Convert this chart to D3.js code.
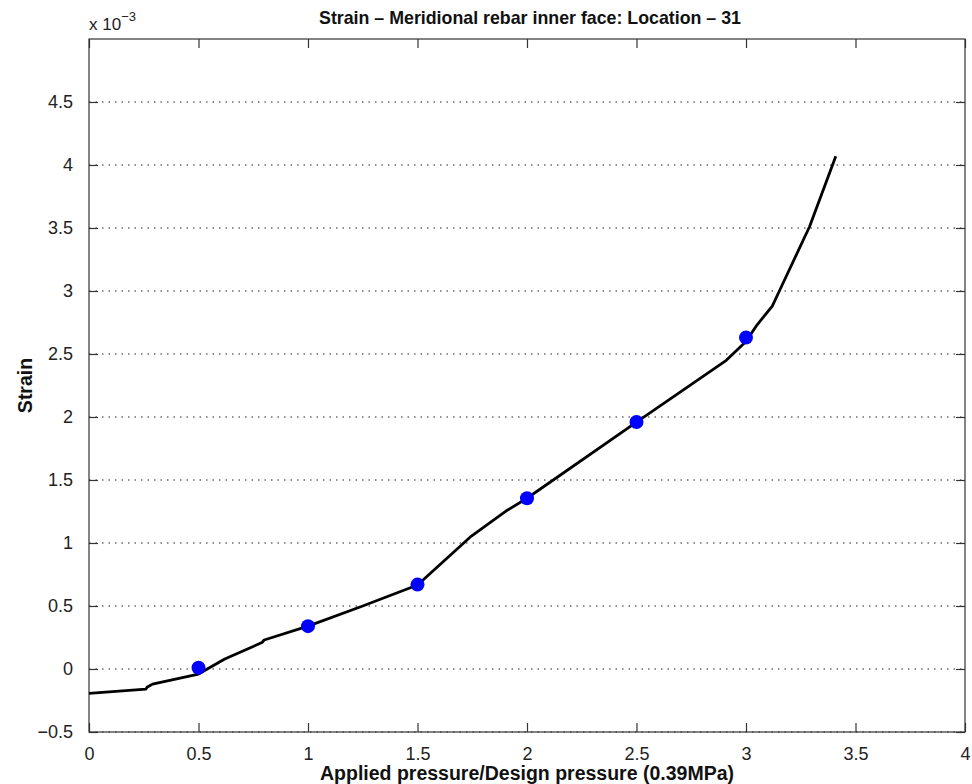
<!DOCTYPE html>
<html>
<head>
<meta charset="utf-8">
<script src="https://cdn.jsdelivr.net/npm/d3@7"></script>
<style>
  body { margin: 0; background: #fff; }
  text { font-family: "Liberation Sans", Arial, sans-serif; }
</style>
</head>
<body>
<script>
// strain curve, x = applied/design pressure, y = strain (x 1e-3)
var curveX = [0, 0.26, 0.265, 0.29, 0.5, 0.62, 0.79, 0.80, 1.0, 1.25, 1.5, 1.74, 1.91, 2.0, 2.5, 2.91, 3.0, 3.05, 3.12, 3.155, 3.29, 3.41];
var curveY = [-0.194, -0.16, -0.145, -0.12, -0.04, 0.08, 0.21, 0.23, 0.34, 0.50, 0.667, 1.046, 1.26, 1.355, 1.96, 2.45, 2.60, 2.73, 2.88, 3.01, 3.51, 4.07];
// measured points
var markX = [0.5, 1.0, 1.5, 2.0, 2.5, 3.0];
var markY = [0.01, 0.34, 0.67, 1.355, 1.96, 2.63];
var xTicks = [0, 0.5, 1, 1.5, 2, 2.5, 3, 3.5, 4];
var yTicks = [-0.5, 0, 0.5, 1, 1.5, 2, 2.5, 3, 3.5, 4, 4.5];

var width = 972, height = 784;
var margin = {top: 39, right: 7, bottom: 52, left: 89};
var w = width - margin.left - margin.right;
var h = height - margin.top - margin.bottom;

var svg = d3.select("body").append("svg")
    .attr("width", width)
    .attr("height", height);
var g = svg.append("g")
    .attr("transform", "translate(" + margin.left + "," + margin.top + ")");

var x = d3.scaleLinear().domain([0, 4]).range([0, w]);
var y = d3.scaleLinear().domain([-0.5, 5]).range([h, 0]);

// dotted horizontal grid
g.selectAll(".grid")
    .data(yTicks)
    .enter().append("line")
    .attr("class", "grid")
    .attr("x1", 0).attr("x2", w)
    .attr("y1", (d) => y(d)).attr("y2", (d) => y(d))
    .attr("stroke", "#222")
    .attr("stroke-width", 1)
    .attr("stroke-dasharray", "1.5,5");

var tickLen = 9;
var bottomAxis = d3.axisBottom(x).tickValues(xTicks).tickSizeInner(-tickLen).tickSizeOuter(0).tickPadding(15).tickFormat(d3.format("~g"));
var topAxis = d3.axisTop(x).tickValues(xTicks).tickSizeInner(-tickLen).tickSizeOuter(0).tickFormat("");
var leftAxis = d3.axisLeft(y).tickValues(yTicks).tickSizeInner(-tickLen).tickSizeOuter(0).tickPadding(16)
    .tickFormat((d) => d < 0 ? "\u2212" + Math.abs(d) : d3.format("~g")(d));
var rightAxis = d3.axisRight(y).tickValues(yTicks).tickSizeInner(-tickLen).tickSizeOuter(0).tickFormat("");

function styleAxis(sel) {
    sel.select(".domain").remove();
    sel.selectAll("line").attr("stroke", "#333").attr("stroke-width", 1.2);
    sel.selectAll("text").attr("font-size", "18px").attr("fill", "#222")
        .attr("font-family", "Liberation Sans, Arial, sans-serif");
}

g.append("g").attr("transform", "translate(0," + h + ")").call(bottomAxis).call(styleAxis);
g.append("g").call(topAxis).call(styleAxis);
g.append("g").call(leftAxis).call(styleAxis);
g.append("g").attr("transform", "translate(" + w + ",0)").call(rightAxis).call(styleAxis);

// box
g.append("rect")
    .attr("x", 0).attr("y", 0).attr("width", w).attr("height", h)
    .attr("fill", "none").attr("stroke", "#333").attr("stroke-width", 1.2);

var curve = curveX.map((d, i) => [d, curveY[i]]);
g.append("path")
    .datum(curve)
    .attr("d", d3.line().x((d) => x(d[0])).y((d) => y(d[1])))
    .attr("fill", "none")
    .attr("stroke", "#000")
    .attr("stroke-width", 2.8)
    .attr("stroke-linejoin", "round");

g.selectAll(".mark")
    .data(markX)
    .enter().append("circle")
    .attr("class", "mark")
    .attr("cx", (d) => x(d))
    .attr("cy", (d, i) => y(markY[i]))
    .attr("r", 7)
    .attr("fill", "#0000ff");

// titles
svg.append("text")
    .attr("x", margin.left + w / 2 + 3)
    .attr("y", 24)
    .attr("text-anchor", "middle")
    .attr("font-size", "17.8px")
    .attr("font-weight", "bold")
    .attr("fill", "#111")
    .text("Strain \u2013 Meridional rebar inner face: Location \u2013 31");

svg.append("text")
    .attr("x", margin.left + w / 2)
    .attr("y", 780)
    .attr("text-anchor", "middle")
    .attr("font-size", "19.5px")
    .attr("font-weight", "bold")
    .attr("fill", "#111")
    .text("Applied pressure/Design pressure (0.39MPa)");

svg.append("text")
    .attr("transform", "translate(32," + (margin.top + h / 2) + ") rotate(-90)")
    .attr("text-anchor", "middle")
    .attr("font-size", "19.5px")
    .attr("font-weight", "bold")
    .attr("fill", "#111")
    .text("Strain");

var exp = svg.append("text")
    .attr("x", 89)
    .attr("y", 30)
    .attr("font-size", "17px")
    .attr("fill", "#222");
exp.append("tspan").text("x 10");
exp.append("tspan").attr("dy", -9).attr("font-size", "13px").text("\u22123");
</script>
</body>
</html>
